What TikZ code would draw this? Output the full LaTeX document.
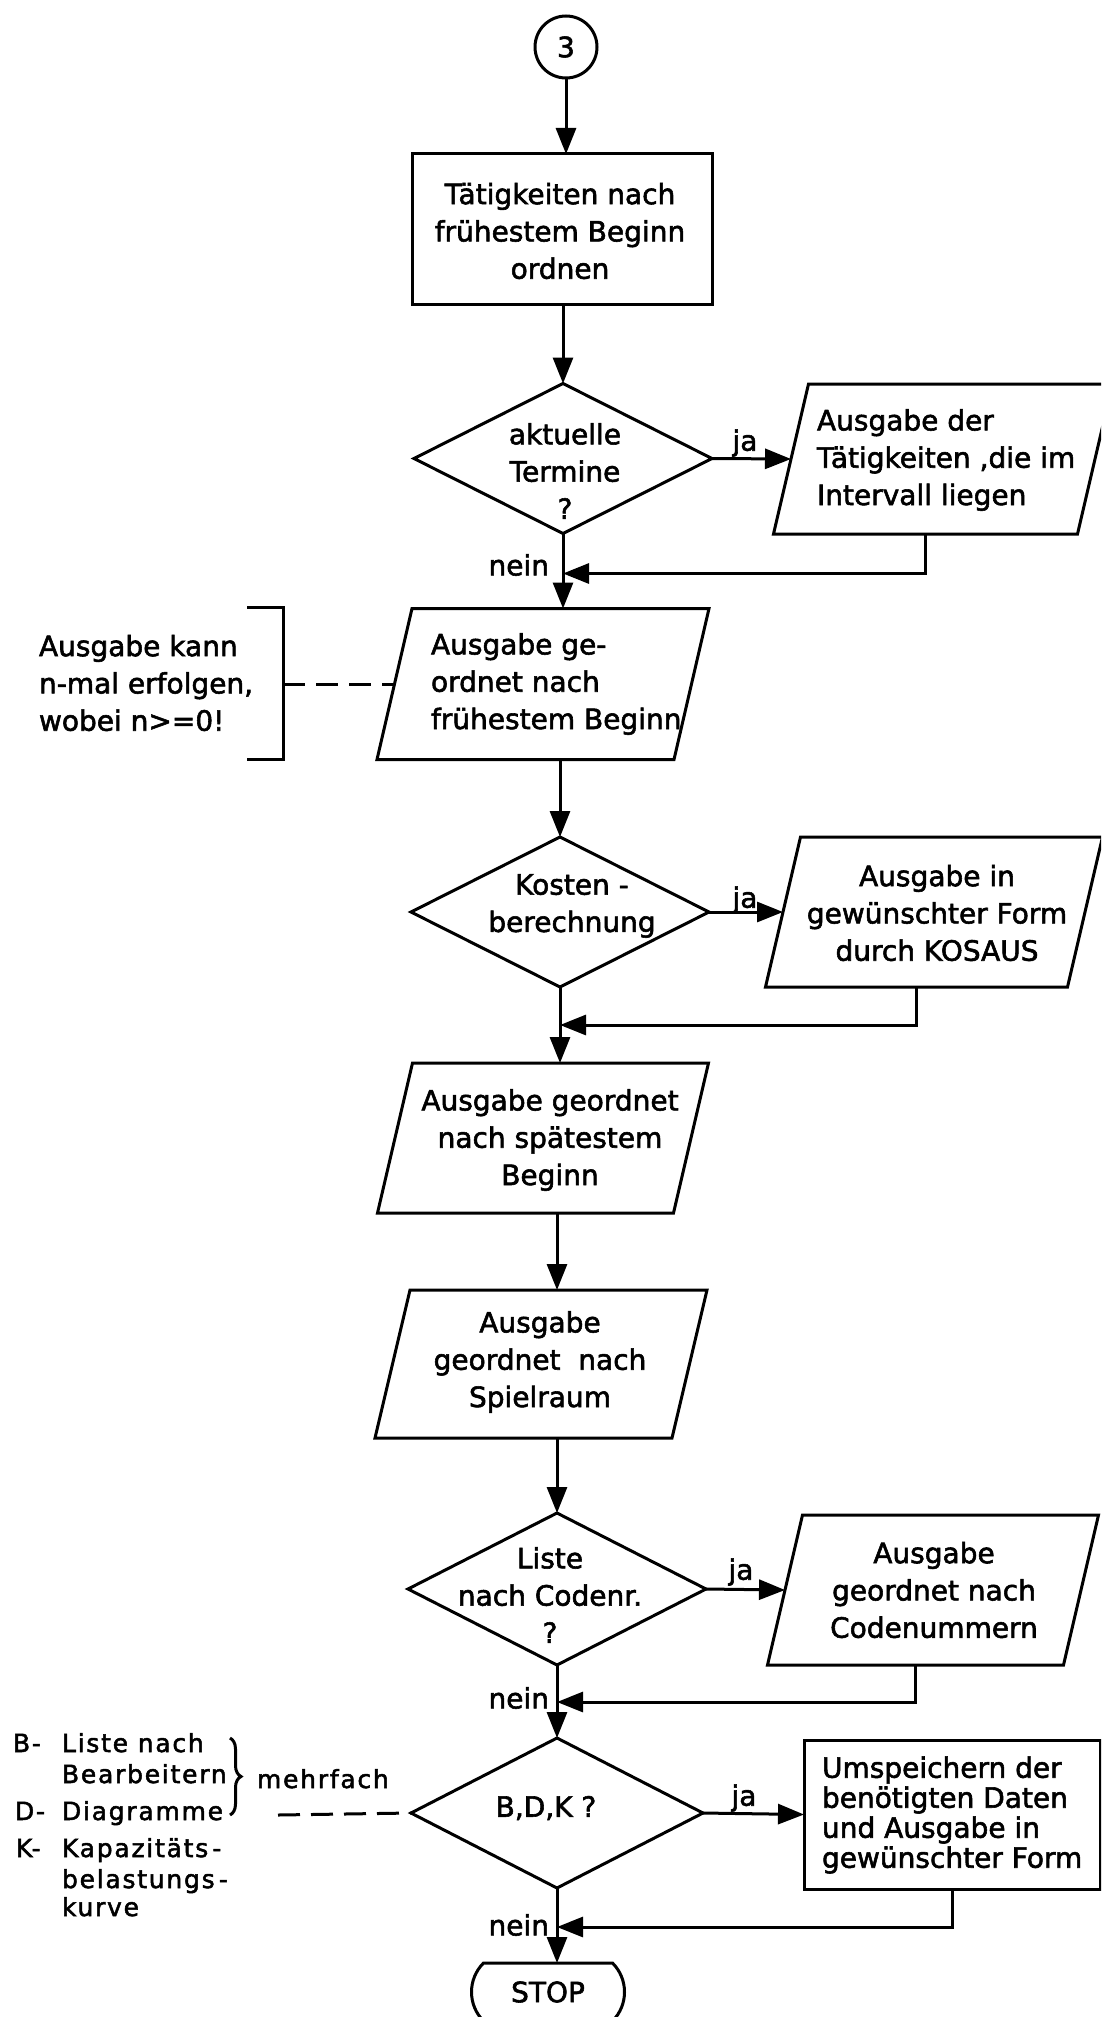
\documentclass[tikz,border=0pt]{standalone}
\usepackage{fontspec}
\setmainfont{DejaVu Sans}[FakeBold=2]
\newfontfamily\legfont{DejaVu Sans}[LetterSpace=7, FakeBold=2]
\usetikzlibrary{arrows.meta,shapes.geometric,shapes.misc,decorations.pathreplacing}
\newcommand\slantbox[1]{\draw[outline] ([xshift=17.5pt]#1.north west) -- ([xshift=17.5pt]#1.north east) -- ([xshift=-17.5pt]#1.south east) -- ([xshift=-17.5pt]#1.south west) -- cycle;}
\begin{document}
\begin{tikzpicture}[x=1pt,y=-1pt, line width=3pt,
  every node/.style={font=\fontsize{28}{37.3}\selectfont, inner sep=0pt, outer sep=0pt},
  outline/.style={draw, line width=3pt},
  arr/.style={draw, -{Triangle[length=26pt,width=20pt]}},
  dashline/.style={draw, dash pattern=on 22pt off 11pt},
  dia/.style={shape=diamond, draw, minimum width=298pt, minimum height=150pt},
  para/.style={shape=rectangle, minimum height=150pt},
  rbox/.style={shape=rectangle, draw},
  txt/.style={align=center},
  ltxt/.style={align=left, anchor=west},
  leg/.style={anchor=base west, font=\legfont\fontsize{25}{32}\selectfont}
]
\useasboundingbox (0,0) rectangle (1101,2017);
\clip (0,0) rectangle (1101,2017);

% --- top
\node[circle, draw, minimum size=62pt] (c3) at (566,47) {3};
\node[rbox, minimum width=300pt, minimum height=151pt] (box1) at (562,229.5) {};
\node[txt] (box1t) at (560,231) {Tätigkeiten nach\\frühestem Beginn\\ordnen};

% --- decision 1
\node[dia] (d1) at (563,458.5) {};
\node[txt] (d1t) at (565,471) {aktuelle\\Termine\\?};
\node[para, minimum width=304pt] (p1) at (943,459) {};
\slantbox{p1}
\node[ltxt] (p1t) at (817,460) {Ausgabe der\\Tätigkeiten ,die im\\Intervall liegen};
\node (ja1) at (745,443) {ja};
\node[anchor=east] (nein1) at (549,565) {nein};

% --- output 2 + annotation
\node[para, minimum width=297pt, minimum height=151pt] (p2) at (543,684) {};
\slantbox{p2}
\node[ltxt] (p2t) at (431,684) {Ausgabe ge-\\ordnet nach\\frühestem Beginn};
\draw[outline] (247,607) -- (283,607) -- (283,759) -- (247,759);
\coordinate (br1) at (283,684);
\node[ltxt] (ann1) at (39,683) {Ausgabe kann\\n-mal erfolgen,\\wobei n>=0!};

% --- decision 2
\node[dia] (d2) at (560,912) {};
\node[txt] (d2t) at (572,906) {Kosten -\\berechnung};
\node[para, minimum width=302pt] (pr2) at (934,912) {};
\slantbox{pr2}
\node[txt] (pr2t) at (937,913) {Ausgabe in\\gewünschter Form\\durch KOSAUS};
\node (ja2) at (745,900) {ja};

% --- outputs 3, 4
\node[para, minimum width=296pt] (p3) at (543,1138) {};
\slantbox{p3}
\node[txt] (p3t) at (550,1140) {Ausgabe geordnet\\nach spätestem\\Beginn};
\node[para, minimum width=297pt, minimum height=148pt] (p4) at (541,1364) {};
\slantbox{p4}
\node[txt] (p4t) at (540,1362) {Ausgabe\\geordnet\ \ nach\\Spielraum};

% --- decision 3
\node[dia, minimum height=152pt] (d3) at (557,1589) {};
\node[txt] (d3t) at (550,1595) {Liste\\nach Codenr.\\?};
\node[para, minimum width=296pt] (pr3) at (933,1590) {};
\slantbox{pr3}
\node[txt] (pr3t) at (934,1590) {Ausgabe\\geordnet nach\\Codenummern};
\node (ja3) at (741,1572) {ja};
\node[anchor=east] (nein2) at (549,1698) {nein};

% --- decision 4
\node[dia, minimum width=292pt] (d4) at (557,1813) {};
\node[txt] (d4t) at (546,1808) {B,D,K ?};
\node[rbox, minimum width=296pt, minimum height=149pt] (box2) at (952,1814.5) {};
\node[ltxt, font=\fontsize{28}{30}\selectfont] (box2t) at (822,1815) {Umspeichern der\\benötigten Daten\\und Ausgabe in\\gewünschter Form};
\node (ja4) at (744,1798) {ja};
\node[anchor=east] (nein3) at (549,1925) {nein};
\node[rounded rectangle, draw, minimum width=153pt, minimum height=58pt, rounded rectangle arc length=90] (stop) at (548,1992) {STOP};

% --- legend
\node[leg] (lgB) at (13,1752) {B-};
\node[leg] (lg1) at (62,1752) {Liste nach};
\node[leg] (lg2) at (62,1783) {Bearbeitern};
\node[leg] (lgD) at (15,1820) {D-};
\node[leg] (lg3) at (62,1820) {Diagramme};
\node[leg] (lgK) at (16,1857) {K-};
\node[leg] (lg4) at (62,1857) {Kapazitäts\,-};
\node[leg] (lg5) at (62,1888) {belastungs\,-};
\node[leg] (lg6) at (62,1916) {kurve};
\draw[decorate, decoration={brace, amplitude=11pt}] (230,1738) -- (230,1815);
\node[leg] (mf) at (257,1788) {mehrfach};
\coordinate (lg) at (278,1815);

% --- connectors
\draw[arr] (c3.south) -- (c3.south |- box1.north);
\draw[arr] (box1.south -| d1.north) -- (d1.north);
\draw[arr] (d1.east) -- (p1.west);
\draw[arr] (d1.south) -- (d1.south |- p2.north);
\draw[arr] ([xshift=-17.5pt]p1.south) |- ([yshift=-40pt]d1.south);
\draw[dashline] (br1) -- (p2.west);
\draw[arr] (d2.north |- p2.south) -- (d2.north);
\draw[arr] (d2.east) -- (pr2.west);
\draw[arr] (d2.south) -- (d2.south |- p3.north);
\draw[arr] ([xshift=-17.5pt]pr2.south) |- ([yshift=-38pt]d2.south);
\draw[arr] (d3.north |- p3.south) -- (d3.north |- p4.north);
\draw[arr] (d3.north |- p4.south) -- (d3.north);
\draw[arr] (d3.east) -- (pr3.west);
\draw[arr] (d3.south) -- (d4.north);
\draw[arr] ([xshift=-17.5pt]pr3.south) |- ([yshift=-37pt]d3.south);
\draw[dashline] (lg) -- (d4.west);
\draw[arr] (d4.east) -- (box2.west);
\draw[arr] (d4.south) -- (d4.south |- stop.north);
\draw[arr] (box2.south) |- ([yshift=-39pt]d4.south);
\end{tikzpicture}
\end{document}
